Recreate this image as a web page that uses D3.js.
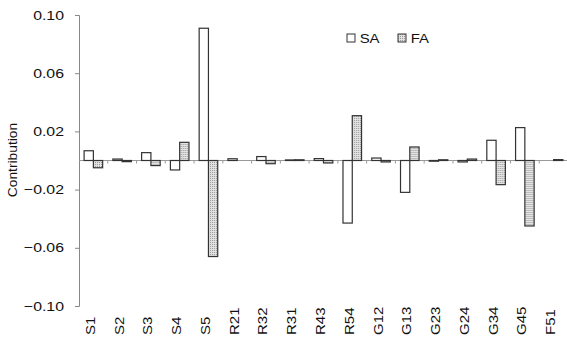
<!DOCTYPE html>
<html>
<head>
<meta charset="utf-8">
<script src="https://cdn.jsdelivr.net/npm/d3@7"></script>
<style>
  body { margin: 0; background: #fff; }
  text { font-family: "Liberation Sans", Arial, sans-serif; fill: #111; }
</style>
</head>
<body>
<div id="chart"></div>
<script>
// data
const categories = ["S1", "S2", "S3", "S4", "S5", "R21", "R32", "R31", "R43", "R54",
    "G12", "G13", "G23", "G24", "G34", "G45", "F51"];
const saValues = [0.0067, 0.001, 0.0054, -0.0065, 0.0909, 0.0012, 0.0027, 0.0004, 0.0013, -0.043,
    0.0017, -0.0219, -0.0005, -0.001, 0.0139, 0.0226, 0];
const faValues = [-0.005, -0.0008, -0.0035, 0.0125, -0.066, 0, -0.0022, 0.0005, -0.0017, 0.0308,
    -0.001, 0.0093, 0.0005, 0.001, -0.0166, -0.045, 0.0006];
const yTicks = [-0.10, -0.06, -0.02, 0.02, 0.06, 0.10];
const seriesNames = ["SA", "FA"];

const width = 567, height = 337;
const svg = d3.select("#chart").append("svg")
    .attr("width", width)
    .attr("height", height);

const defs = svg.append("defs");
const pat = defs.append("pattern")
    .attr("id", "dots")
    .attr("patternUnits", "userSpaceOnUse")
    .attr("width", 2)
    .attr("height", 2);
pat.append("rect").attr("width", 2).attr("height", 2).attr("fill", "#e2e2e2");
pat.append("rect").attr("width", 1).attr("height", 1).attr("fill", "#9a9a9a");

const x = d3.scaleBand()
    .domain(categories)
    .range([79, 568]);

const x1 = d3.scaleBand()
    .domain(seriesNames)
    .range([0, x.bandwidth()])
    .paddingInner(0)
    .paddingOuter(0.55);

const y = d3.scaleLinear()
    .domain([-0.10, 0.10])
    .range([306, 15]);

// y axis
const yAxis = svg.append("g")
    .attr("transform", "translate(79,0)")
    .call(d3.axisLeft(y).tickValues(yTicks).tickFormat(d3.format(".2f")).tickSize(4).tickPadding(10));
yAxis.select(".domain").attr("stroke", "#888");
yAxis.selectAll(".tick line").attr("stroke", "#888");
// labels look wider than plain Arial, stretch them a bit
yAxis.selectAll(".tick text")
    .attr("font-size", 13)
    .attr("fill", "#111")
    .style("font-family", "'Liberation Sans', Arial, sans-serif")
    .attr("x", -15 / 1.22)
    .attr("transform", "scale(1.22,1)");

svg.append("text")
    .attr("transform", "translate(17,160) rotate(-90) scale(1.15,1)")
    .attr("text-anchor", "middle")
    .attr("font-size", 12)
    .text("Contribution");

// zero line with small ticks between categories
svg.append("line")
    .attr("x1", 79).attr("x2", x.range()[1])
    .attr("y1", y(0)).attr("y2", y(0))
    .attr("stroke", "#999");

svg.selectAll(".sep")
    .data(categories.slice(1))
    .join("line")
    .attr("class", "sep")
    .attr("x1", d => x(d)).attr("x2", d => x(d))
    .attr("y1", y(0)).attr("y2", y(0) + 3)
    .attr("stroke", "#999");

// bars
const groups = svg.selectAll(".cat")
    .data(categories)
    .join("g")
    .attr("class", "cat")
    .attr("transform", d => "translate(" + x(d) + ",0)");

groups.selectAll("rect")
    .data((d, i) => [
        {key: "SA", value: saValues[i]},
        {key: "FA", value: faValues[i]}
    ])
    .join("rect")
    .attr("x", d => x1(d.key))
    .attr("width", x1.bandwidth())
    .attr("y", d => y(Math.max(0, d.value)))
    .attr("height", d => Math.abs(y(d.value) - y(0)))
    .attr("fill", d => d.key === "SA" ? "#fff" : "url(#dots)")
    .attr("stroke", "#333")
    .attr("stroke-width", 1.2);

// category labels, rotated
svg.selectAll(".xlab")
    .data(categories)
    .join("text")
    .attr("class", "xlab")
    .attr("transform", d => "translate(" + (x(d) + x.bandwidth() / 2 + 1.5) + ",335) rotate(-90) scale(1.25,1)")
    .attr("text-anchor", "start")
    .attr("font-size", 12)
    .text(d => d);

// legend
const legend = svg.append("g").attr("transform", "translate(347,34)");
const legItems = legend.selectAll("g")
    .data(seriesNames)
    .join("g")
    .attr("transform", (d, i) => "translate(" + (i * 51) + ",0)");
legItems.append("rect")
    .attr("width", 8).attr("height", 8)
    .attr("fill", d => d === "SA" ? "#fff" : "url(#dots)")
    .attr("stroke", "#333")
    .attr("stroke-width", 1);
legItems.append("text")
    .attr("x", 11).attr("y", 8.5)
    .attr("font-size", 13)
    .attr("transform", "scale(1.15,1)")
    .text(d => d);
</script>
</body>
</html>
